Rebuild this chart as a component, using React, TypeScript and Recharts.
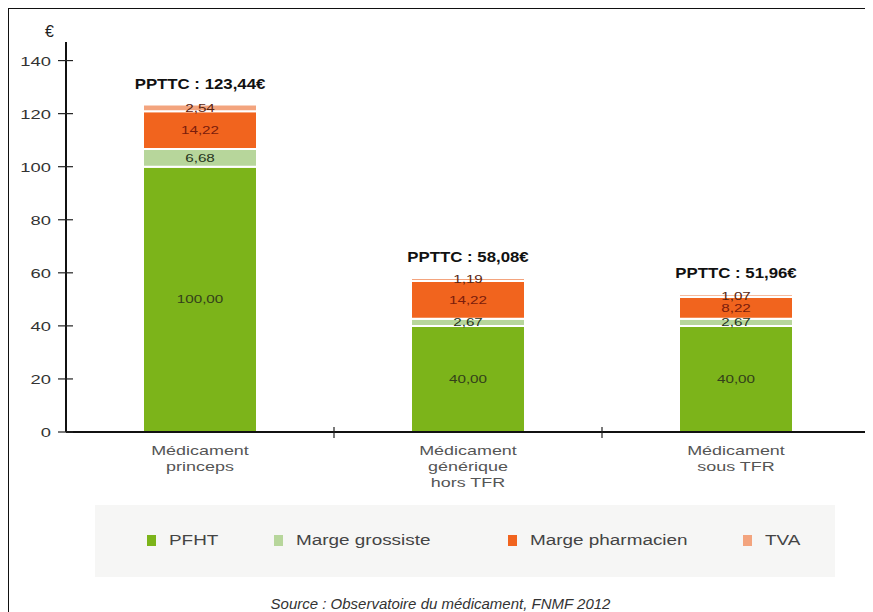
import React from "react";
import { BarChart, Bar, XAxis, YAxis, LabelList, Legend } from "recharts";

const categories = [
  "Médicament\nprinceps",
  "Médicament\ngénérique\nhors TFR",
  "Médicament\nsous TFR",
];
const pfht = [100, 40, 40];
const margeGrossiste = [6.68, 2.67, 2.67];
const margePharmacien = [14.22, 14.22, 8.22];
const tva = [2.54, 1.19, 1.07];
const ppttc = [123.44, 58.08, 51.96];
const yTicks = [0, 20, 40, 60, 80, 100, 120, 140];

const series = [
  { key: "pfht", name: "PFHT", color: "#7cb41a", text: "#33401a" },
  { key: "grossiste", name: "Marge grossiste", color: "#b7d69b", text: "#26351c" },
  { key: "pharmacien", name: "Marge pharmacien", color: "#f1641e", text: "#7a1c0c" },
  { key: "tva", name: "TVA", color: "#f3a47e", text: "#5a2410" },
];

const data = categories.map((name, i) => ({
  name,
  pfht: pfht[i],
  grossiste: margeGrossiste[i],
  pharmacien: margePharmacien[i],
  tva: tva[i],
  total: ppttc[i],
}));

const fmt = (v: number) => v.toFixed(2).replace(".", ",");

const W = 863;
const H = 604;
const LEFT = 57;
const RIGHT = 2;
const XH = 60;
const BAND = (W - LEFT - RIGHT) / categories.length;
const FONT = "'Liberation Sans', Arial, Helvetica, sans-serif";

const YTick = (props: any) => {
  const { x, y, payload } = props;
  return (
    <g>
      <line x1={x + 2} x2={x + 17} y1={y} y2={y} stroke="#222" strokeWidth={1.2} />
      <text
        transform={`translate(${x - 5},${y}) scale(1.36,1)`}
        dy={5}
        textAnchor="end"
        fontSize={13.5}
        fill="#333"
        fontFamily={FONT}
      >
        {payload.value}
      </text>
    </g>
  );
};

const XTick = (props: any) => {
  const { x, y, payload } = props;
  const lines = String(payload.value).split("\n");
  return (
    <g>
      <line x1={x + BAND / 2} x2={x + BAND / 2} y1={y - 5} y2={y + 6} stroke="#222" strokeWidth={1.2} />
      <text
        transform={`translate(${x},${y + 23}) scale(1.38,1)`}
        textAnchor="middle"
        fontSize={13}
        fill="#555"
        fontFamily={FONT}
      >
        {lines.map((l, i) => (
          <tspan key={i} x={0} dy={i === 0 ? 0 : 16}>
            {l}
          </tspan>
        ))}
      </text>
    </g>
  );
};

const SegmentLabel = (props: any) => {
  const { x, y, width, height, value, txt } = props;
  return (
    <text
      transform={`translate(${x + width / 2},${y + height / 2}) scale(1.45,1)`}
      dy={4}
      textAnchor="middle"
      fontSize={10.5}
      fill={txt}
      fontFamily={FONT}
    >
      {fmt(Number(value))}
    </text>
  );
};

const TotalLabel = (props: any) => {
  const { x, y, width, index } = props;
  return (
    <text
      transform={`translate(${x + width / 2},${y - 16}) scale(1.2,1)`}
      textAnchor="middle"
      fontSize={14}
      fontWeight="bold"
      fill="#111"
      fontFamily={FONT}
    >
      {`PPTTC : ${fmt(ppttc[index])}€`}
    </text>
  );
};

const legendLeft = [52, 179, 413, 648];

const LegendContent = () => (
  <div
    style={{
      position: "relative",
      width: 740,
      height: 72,
      background: "#f6f6f5",
      fontFamily: FONT,
      fontSize: 14,
      color: "#444",
    }}
  >
    {series.map((s, i) => (
      <div
        key={s.key}
        style={{
          position: "absolute",
          left: legendLeft[i],
          top: 27,
          display: "flex",
          alignItems: "center",
          gap: 13,
        }}
      >
        <span style={{ display: "inline-block", width: 9, height: 11, background: s.color }} />
        <span style={{ display: "inline-block", transform: "scaleX(1.35)", transformOrigin: "left center" }}>
          {s.name}
        </span>
      </div>
    ))}
  </div>
);

export default function App() {
  return (
    <div
      style={{
        position: "relative",
        width: W,
        height: H,
        border: "1px solid #111",
        background: "#fff",
      }}
    >
      <div
        style={{
          position: "absolute",
          left: 36,
          top: 14,
          fontFamily: FONT,
          fontSize: 16,
          color: "#222",
        }}
      >
        €
      </div>
      <BarChart
        width={W}
        height={H}
        data={data}
        margin={{ top: 33, right: RIGHT, bottom: H - 423 - XH, left: 0 }}
        barSize={114}
      >
        <XAxis
          dataKey="name"
          tick={<XTick />}
          tickLine={false}
          tickSize={0}
          tickMargin={0}
          interval={0}
          axisLine={{ stroke: "#111", strokeWidth: 2 }}
          height={XH}
        />
        <YAxis
          width={LEFT}
          domain={[0, 147]}
          ticks={yTicks}
          interval={0}
          tick={<YTick />}
          tickLine={false}
          tickSize={8}
          tickMargin={2}
          axisLine={{ stroke: "#111", strokeWidth: 2 }}
        />
        <Legend
          layout="horizontal"
          verticalAlign="middle"
          align="center"
          content={<LegendContent />}
          wrapperStyle={{ position: "absolute", left: 86, top: 496, width: 740, height: 72 }}
        />
        {series.map((s) => (
          <Bar
            key={s.key}
            dataKey={s.key}
            name={s.name}
            stackId="a"
            fill={s.color}
            stroke="#fff"
            strokeWidth={2}
            isAnimationActive={false}
          >
            <LabelList dataKey={s.key} content={<SegmentLabel txt={s.text} />} />
            {s.key === "tva" ? <LabelList dataKey="total" content={<TotalLabel />} /> : null}
          </Bar>
        ))}
      </BarChart>
      <div
        style={{
          position: "absolute",
          left: 0,
          top: 586,
          width: "100%",
          textAlign: "center",
          fontFamily: FONT,
          fontStyle: "italic",
          fontSize: 15,
          color: "#333",
        }}
      >
        Source : Observatoire du médicament, FNMF 2012
      </div>
    </div>
  );
}
